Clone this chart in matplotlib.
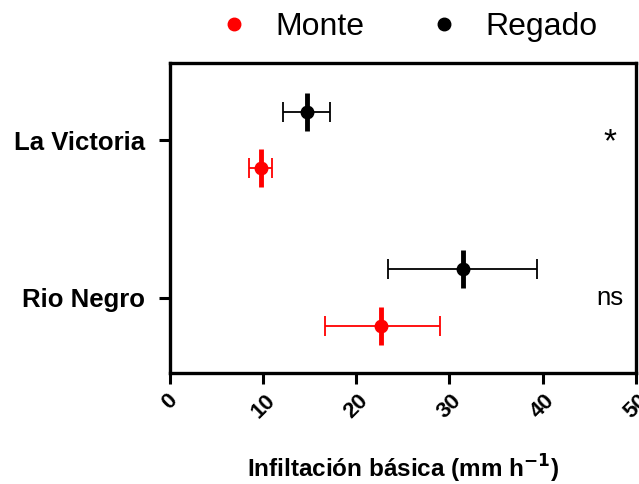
import matplotlib.pyplot as plt
from matplotlib.lines import Line2D

plt.rcParams["font.family"] = ["Liberation Sans", "DejaVu Sans"]

sites = ["La Victoria", "Rio Negro"]
groups = ["Monte", "Regado"]
colors = ["#ff0000", "#000000"]
# mean and error half-widths (mm h-1), per group, in site order
means = {"Monte": [9.8, 22.7], "Regado": [14.7, 31.4]}
err_low = {"Monte": [1.3, 6.1], "Regado": [2.6, 8.0]}
err_high = {"Monte": [1.2, 6.3], "Regado": [2.5, 8.0]}
signif = ["*", "ns"]

site_pos = [1, 0]
offsets = {"Monte": -0.18, "Regado": 0.18}

fig = plt.figure(figsize=(6.39, 4.84), dpi=100)
ax = fig.add_axes([0.266, 0.229, 0.729, 0.641])

for g, c in zip(groups, colors):
    ys = [p + offsets[g] for p in site_pos]
    ax.errorbar(means[g], ys, xerr=[err_low[g], err_high[g]], fmt="o", color=c,
                ms=9, elinewidth=1.3, capsize=7, capthick=1.3)
    ax.plot(means[g], ys, linestyle="none", marker="|", ms=27, mew=3.5, color=c)

for p, s in zip(site_pos, signif):
    ax.text(47.2, p + (0.0 if s == "ns" else -0.02), s, ha="center", va="center",
            fontsize=24 if s == "*" else 18.5)

ax.set_xlim(0, 50)
ax.set_ylim(-0.48, 1.49)
ax.set_xticks(range(0, 51, 10))
ax.set_yticks(site_pos)
ax.set_yticklabels(sites, fontsize=18.5, fontweight="bold")
for lbl in ax.get_xticklabels():
    lbl.set_rotation(45)
    lbl.set_fontsize(16)
    lbl.set_fontweight("bold")
ax.tick_params(axis="both", width=2.2, length=8, direction="out")
ax.tick_params(axis="y", pad=10)
ax.tick_params(axis="x", pad=4)
for sp in ax.spines.values():
    sp.set_linewidth(2.4)

ax.set_xlabel("Infiltación básica (mm h$^{\\mathbf{-1}}$)", fontsize=17.5,
              fontweight="bold", labelpad=22)

handles = [Line2D([], [], linestyle="none", marker="o", color=c, ms=9) for c in colors]
fig.legend(handles, groups, loc="center", bbox_to_anchor=(0.638, 0.944), ncol=2,
           frameon=False, fontsize=23, handletextpad=0.8, columnspacing=2.0,
           handlelength=1.0)

fig.savefig("out.png", dpi=100)
